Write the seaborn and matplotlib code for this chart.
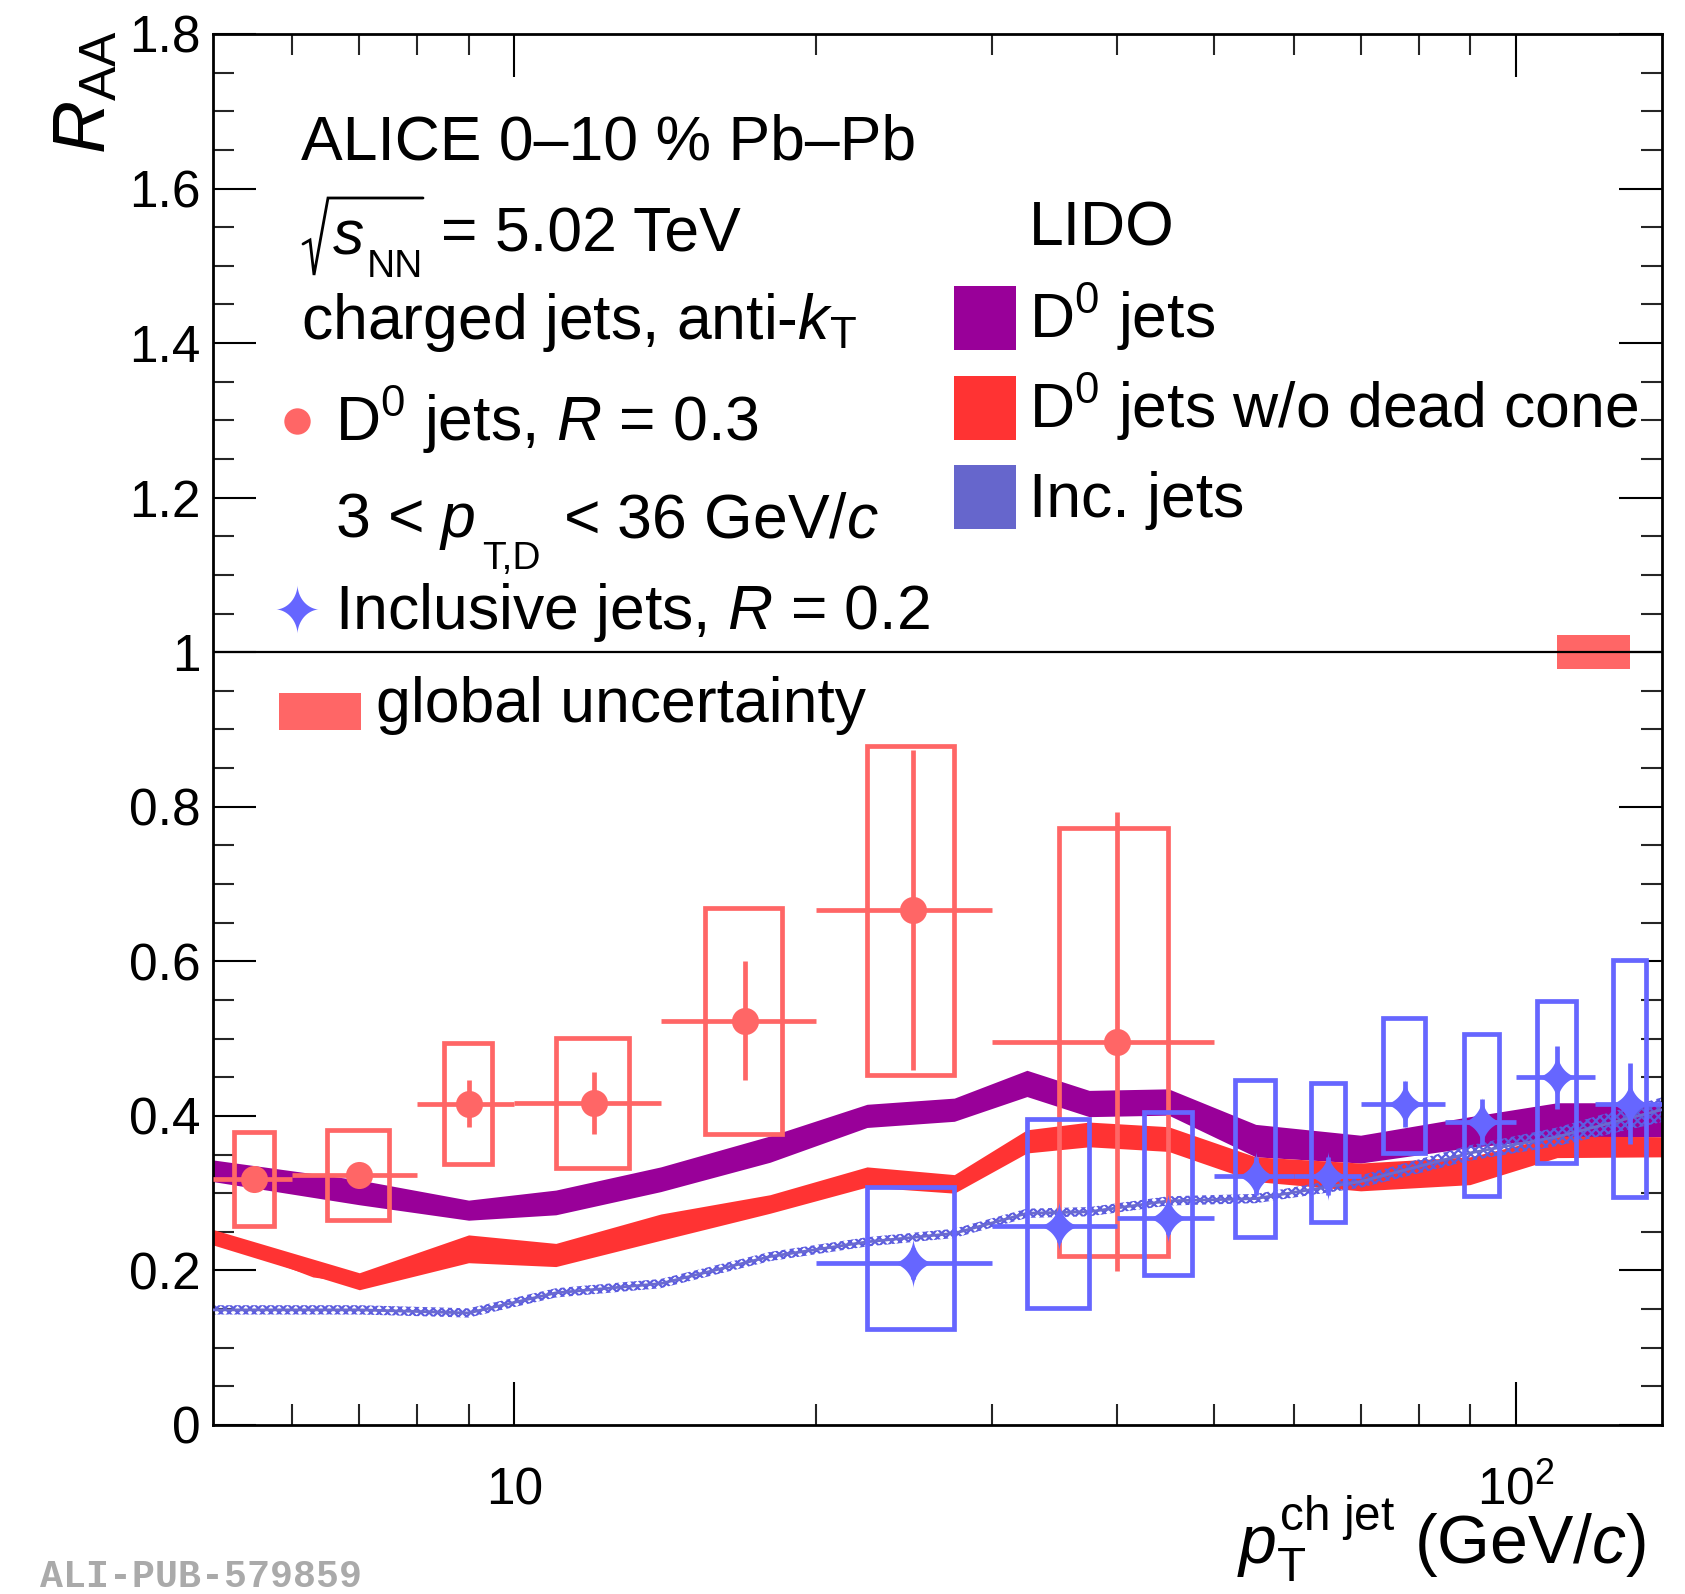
import numpy as np
import pandas as pd
import matplotlib
matplotlib.use("Agg")
import matplotlib.pyplot as plt
import seaborn as sns
import matplotlib.transforms as mtransforms
from matplotlib.patches import Rectangle
from matplotlib.lines import Line2D
from matplotlib.path import Path
from matplotlib.ticker import FixedLocator, NullFormatter

# ---------------- data ----------------
# ALICE D0 jets R=0.3
d0_pt = [5.5, 7, 9, 12, 17, 25, 40]
d0_lo = [5, 6, 8, 10, 14, 20, 30]
d0_hi = [6, 8, 10, 14, 20, 30, 50]
d0_raa = [0.318, 0.3235, 0.416, 0.417, 0.523, 0.666, 0.496]
d0_stat = [0.010, 0.010, 0.031, 0.040, 0.077, 0.207, 0.297]
d0_sys = [0.061, 0.0585, 0.078, 0.084, 0.146, 0.213, 0.277]

# ALICE inclusive jets R=0.2
inc_pt = [25, 35, 45, 55, 65, 77.5, 92.5, 110, 130]
inc_lo = [20, 30, 40, 50, 60, 70, 85, 100, 120]
inc_hi = [30, 40, 50, 60, 70, 85, 100, 120, 140]
inc_raa = [0.209, 0.257, 0.2675, 0.322, 0.322, 0.415, 0.392, 0.450, 0.416]
inc_stat = [0.020, 0.020, 0.020, 0.025, 0.025, 0.030, 0.030, 0.041, 0.053]
inc_sys_up = [0.099, 0.139, 0.1375, 0.125, 0.120, 0.112, 0.1135, 0.0987, 0.186]
inc_sys_dn = [0.085, 0.106, 0.0735, 0.079, 0.059, 0.063, 0.0957, 0.1106, 0.121]

# LIDO predictions
lido_pt = [5, 7, 9, 11, 14, 18, 22.5, 27.5, 32.5, 37.5, 45, 55, 70, 90, 110, 140]
lido_d0 = [0.329, 0.301, 0.278, 0.288, 0.318, 0.357, 0.400, 0.408, 0.442, 0.416,
           0.418, 0.368, 0.357, 0.379, 0.394, 0.395]
lido_d0_err = [0.014, 0.016, 0.013, 0.016, 0.016, 0.017, 0.015, 0.015, 0.017, 0.017,
               0.017, 0.021, 0.018, 0.020, 0.023, 0.022]
lido_nodc = [0.243, 0.186, 0.228, 0.220, 0.256, 0.286, 0.321, 0.312, 0.367, 0.376,
             0.370, 0.331, 0.321, 0.329, 0.360, 0.360]
lido_nodc_err = [0.010, 0.011, 0.018, 0.015, 0.017, 0.012, 0.013, 0.012, 0.015, 0.016,
                 0.016, 0.016, 0.018, 0.018, 0.014, 0.013]
lido_inc = [0.149, 0.149, 0.145, 0.171, 0.183, 0.218, 0.237, 0.248, 0.274, 0.276,
            0.290, 0.293, 0.315, 0.352, 0.373, 0.408]
lido_inc_err = [0.006, 0.006, 0.006, 0.006, 0.006, 0.006, 0.006, 0.006, 0.006, 0.006,
                0.006, 0.006, 0.008, 0.010, 0.012, 0.016]
# thin outline artefact of the no-dead-cone band at low pT
nodc_edge_pt = [5, 5.7, 6.3, 6.8]
nodc_edge = [0.246, 0.2135, 0.192, 0.186]

global_unc = 0.022
global_unc_pt = [110, 130]

xtick_vals = [10, 100]
xtick_text = ["10", "$10^{2}$"]
ytick_vals = [0, 0.2, 0.4, 0.6, 0.8, 1.0, 1.2, 1.4, 1.6, 1.8]

# ---------------- style ----------------
C_D0 = "#FF6666"
C_INC = "#6666FF"
C_LIDO_D0 = "#990099"
C_LIDO_NODC = "#FF3333"
C_LIDO_INC = "#6666CC"

sns.set_theme(style="ticks")
plt.rcParams["font.family"] = ["Liberation Sans", "DejaVu Sans"]
plt.rcParams["mathtext.fontset"] = "custom"
plt.rcParams["mathtext.rm"] = "Liberation Sans"
plt.rcParams["mathtext.it"] = "Liberation Sans:italic"
plt.rcParams["mathtext.bf"] = "Liberation Sans:bold"
plt.rcParams["hatch.linewidth"] = 1.6

W, H = 1685, 1594
fig = plt.figure(figsize=(W / 100, H / 100), dpi=100)
ax = fig.add_axes([213 / W, 1 - 1425 / H, (1662 - 213) / W, (1425 - 34) / H])
ax.set_xscale("log")
ax.set_xlim(5, 140)
ax.set_ylim(0, 1.8)

# LIDO bands
lido = pd.DataFrame({"pt": lido_pt, "d0": lido_d0, "d0e": lido_d0_err,
                     "nodc": lido_nodc, "nodce": lido_nodc_err,
                     "inc": lido_inc, "ince": lido_inc_err})
ax.fill_between(lido.pt, lido.d0 - lido.d0e, lido.d0 + lido.d0e,
                color=C_LIDO_D0, lw=0, zorder=2)
ax.fill_between(lido.pt, lido.nodc - lido.nodce, lido.nodc + lido.nodce,
                color=C_LIDO_NODC, lw=0, zorder=2)
ax.plot(nodc_edge_pt, nodc_edge, color=C_LIDO_NODC, lw=1.2, zorder=2)
ax.fill_between(lido.pt, lido.inc - lido.ince, lido.inc + lido.ince,
                facecolor="none", edgecolor="#5c5ce0", hatch="xxxx", lw=0, zorder=2)
sns.lineplot(data=lido, x="pt", y="inc", color="#6a6ad0", lw=2.0, ax=ax, zorder=3)

# line at 1
ax.axhline(1.0, color="black", lw=1.6, zorder=4)

# global uncertainty box
ax.add_patch(Rectangle((global_unc_pt[0], 1 - global_unc),
                       global_unc_pt[1] - global_unc_pt[0], 2 * global_unc,
                       facecolor=C_D0, edgecolor="none", zorder=3))

LW = 3.4
# D0 jets: sys boxes, stat errors, markers
for x, lo, hi, y, s in zip(d0_pt, d0_lo, d0_hi, d0_raa, d0_sys):
    w = (hi - lo) / 2
    ax.add_patch(Rectangle((x - w / 2, y - s), w, 2 * s, facecolor="none",
                           edgecolor=C_D0, lw=LW, zorder=5))
xerr_d0 = [np.array(d0_pt) - np.array(d0_lo), np.array(d0_hi) - np.array(d0_pt)]
ax.errorbar(d0_pt, d0_raa, xerr=xerr_d0, yerr=d0_stat, fmt="none",
            ecolor=C_D0, elinewidth=LW, capsize=0, zorder=6)

# inclusive jets
for x, lo, hi, y, su, sd in zip(inc_pt, inc_lo, inc_hi, inc_raa, inc_sys_up, inc_sys_dn):
    w = (hi - lo) / 2
    ax.add_patch(Rectangle((x - w / 2, y - sd), w, su + sd, facecolor="none",
                           edgecolor=C_INC, lw=LW, zorder=5))
xerr_inc = [np.array(inc_pt) - np.array(inc_lo), np.array(inc_hi) - np.array(inc_pt)]
ax.errorbar(inc_pt, inc_raa, xerr=xerr_inc, yerr=inc_stat, fmt="none",
            ecolor=C_INC, elinewidth=LW, capsize=0, zorder=6)

# star marker shape (4-pointed, concave sides)
t = np.linspace(0, 2 * np.pi, 161)
star_v = np.column_stack([0.88 * np.sign(np.cos(t)) * np.abs(np.cos(t)) ** 3.4,
                          np.sign(np.sin(t)) * np.abs(np.sin(t)) ** 3.4])
star = Path(star_v, closed=True)

pts_d0 = pd.DataFrame({"pt": d0_pt, "raa": d0_raa})
pts_inc = pd.DataFrame({"pt": inc_pt, "raa": inc_raa})
sns.scatterplot(data=pts_d0, x="pt", y="raa", ax=ax, color=C_D0, s=380,
                marker="o", linewidth=0, zorder=7)
sns.scatterplot(data=pts_inc, x="pt", y="raa", ax=ax, color=C_INC, s=36 ** 2,
                marker=star, linewidth=0, zorder=7)

# axes styling
for sp in ax.spines.values():
    sp.set_linewidth(2.0)
    sp.set_color("black")
ax.yaxis.set_major_locator(FixedLocator(ytick_vals))
ax.yaxis.set_minor_locator(FixedLocator(np.arange(0, 1.81, 0.05)))
ax.set_yticklabels(["%g" % v for v in ytick_vals])
ax.xaxis.set_major_locator(FixedLocator(xtick_vals))
ax.xaxis.set_minor_locator(FixedLocator([6, 7, 8, 9, 20, 30, 40, 50, 60, 70, 80, 90]))
ax.xaxis.set_major_formatter(NullFormatter())
ax.xaxis.set_minor_formatter(NullFormatter())
ax.tick_params(which="major", direction="in", length=31, width=1.5,
               top=True, right=True, labelsize=37, pad=9, colors="black")
ax.tick_params(which="minor", direction="in", length=15, width=1.5,
               top=True, right=True)
ax.set_xlabel("")
ax.set_ylabel("")
trans = mtransforms.blended_transform_factory(ax.transData, ax.transAxes)
for v, s in zip(xtick_vals, xtick_text):
    ax.text(v, -0.057, s, transform=trans, ha="center", va="baseline",
            fontsize=37, color="black")


def fx(xp):
    return xp / W


def fy(yp):
    return 1 - yp / H


def ft(xp, yp, s, **kw):
    kw.setdefault("va", "baseline")
    kw.setdefault("ha", "left")
    kw.setdefault("fontsize", 45)
    kw.setdefault("color", "black")
    fig.text(fx(xp), fy(yp), s, **kw)


# axis titles
ft(86, 30, r"$R_{\mathrm{AA}}$", rotation=90, ha="center", va="top", fontsize=53)
ft(1646, 1564, r"$p_{\mathrm{T}}^{\mathrm{ch\ jet}}$ (GeV/$c$)", ha="right", fontsize=49)

# left legend block
ft(301, 159, "ALICE 0\u201310 % Pb\u2013Pb")
# sqrt(s_NN): radical sign drawn as a stroke, s and NN as text
rad_x = [303, 310, 314, 328, 423]
rad_y = [244, 240, 275, 198, 198]
fig.add_artist(Line2D([fx(v) for v in rad_x], [fy(v) for v in rad_y], color="black",
                      lw=2.0, solid_joinstyle="miter", transform=fig.transFigure))
ft(332, 253, r"$s$")
ft(367, 277, "NN", fontsize=28)
ft(441, 251, "= 5.02 TeV")
ft(301, 339, r"charged jets, anti-$k_{\mathrm{T}}$")
ft(335, 441, r"D$^{0}$ jets, $R$ = 0.3")
ft(335, 537, r"3 < $p$")
ft(482, 569, "T,D", fontsize=28)
ft(563, 537, r"< 36 GeV/$c$")
ft(335, 629, r"Inclusive jets, $R$ = 0.2")
ft(376, 722, "global uncertainty")
fig.add_artist(Line2D([fx(297)], [fy(421)], marker="o", ms=19, color=C_D0,
                      mew=0, ls="none", transform=fig.transFigure, zorder=10))
fig.add_artist(Line2D([fx(297)], [fy(609)], marker=star, ms=35, color=C_INC,
                      mew=0, ls="none", transform=fig.transFigure, zorder=10))
fig.add_artist(Rectangle((fx(279), fy(730)), 82 / W, 37 / H, facecolor=C_D0,
                         edgecolor="none", transform=fig.transFigure, zorder=10))

# LIDO legend
ft(1029, 245, "LIDO")
for y0, col, lab in [(286, C_LIDO_D0, r"D$^{0}$ jets"),
                     (376, C_LIDO_NODC, r"D$^{0}$ jets w/o dead cone"),
                     (465, C_LIDO_INC, "Inc. jets")]:
    fig.add_artist(Rectangle((fx(954), fy(y0 + 64)), 62 / W, 64 / H,
                             facecolor=col, edgecolor="none",
                             transform=fig.transFigure, zorder=10))
    ft(1029, y0 + 52, lab)

# watermark
ft(40, 1587, "ALI-PUB-579859", fontsize=27.5, color="#aaaaaa",
   family=["Liberation Mono", "DejaVu Sans Mono"], weight="bold")

fig.savefig("out.png", dpi=100)
